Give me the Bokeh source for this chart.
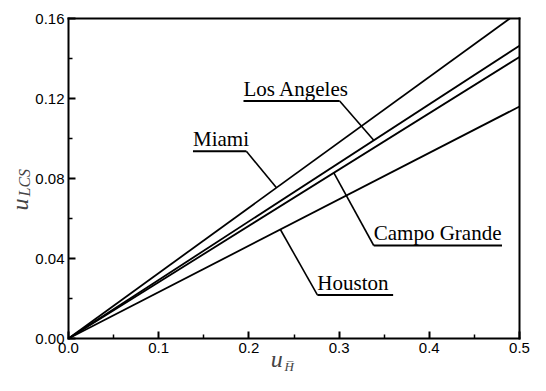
import numpy as np
from math import pi
from bokeh.plotting import figure
from bokeh.models import Range1d, FixedTicker, PrintfTickFormatter, Label, LinearAxis
from bokeh.embed import file_html
from bokeh.resources import INLINE

# ---- data ----
u_h = [0.0, 0.5]
miami = [0.0, 0.1635]
los_angeles = [0.0, 0.1464]
campo_grande = [0.0, 0.1408]
houston = [0.0, 0.1160]

x_ticks = [0.0, 0.1, 0.2, 0.3, 0.4, 0.5]
x_minor = [0.05, 0.15, 0.25, 0.35, 0.45]
y_ticks = [0.0, 0.04, 0.08, 0.12, 0.16]
y_minor = [0.02, 0.06, 0.10, 0.14]

series = {"Miami": miami, "Los Angeles": los_angeles,
          "Campo Grande": campo_grande, "Houston": houston}

# callout placement (data units): underline x0, x1, y; leader start end; leader target x on its series
callouts = {
    "Los Angeles": (0.194, 0.3006, 0.1188, "right", 0.3384),
    "Miami": (0.138, 0.1972, 0.0936, "right", 0.2306),
    "Campo Grande": (0.3384, 0.4806, 0.0465, "left", 0.2942),
    "Houston": (0.2759, 0.3599, 0.0218, "left", 0.2349),
}

# ---- layout (pixels) ----
W, H = 530, 375
PX_L, PX_R, PX_T, PX_B = 68, 519, 18, 338
X_LO, X_HI, Y_LO, Y_HI = 0.0, 0.5, 0.0, 0.16
kx = (PX_R - PX_L) / (X_HI - X_LO)
ky = (PX_B - PX_T) / (Y_HI - Y_LO)

p = figure(width=W, height=H, output_backend="svg", toolbar_location=None,
           x_range=Range1d(X_LO - PX_L / kx, X_HI + (W - PX_R) / kx),
           y_range=Range1d(Y_LO - (H - PX_B) / ky, Y_HI + PX_T / ky),
           min_border=0, min_border_left=0, min_border_right=0,
           min_border_top=0, min_border_bottom=0)
p.grid.visible = False
p.outline_line_color = None
p.background_fill_color = "white"
p.border_fill_color = "white"


def style_axis(ax):
    ax.axis_line_width = 2
    ax.axis_line_color = "black"
    ax.axis_line_cap = "square"
    ax.major_tick_in = 7
    ax.major_tick_out = 0
    ax.minor_tick_in = 4
    ax.minor_tick_out = 0
    ax.major_tick_line_width = 2
    ax.minor_tick_line_width = 1.5
    ax.major_label_text_font = "Liberation Sans"
    ax.major_label_text_font_size = "15px"
    ax.major_label_text_color = "black"
    ax.major_label_standoff = 4


xa = p.xaxis[0]
xa.fixed_location = Y_LO
xa.bounds = (X_LO, X_HI)
xa.ticker = FixedTicker(ticks=x_ticks, minor_ticks=x_minor)
xa.formatter = PrintfTickFormatter(format="%.1f")
style_axis(xa)

ya = p.yaxis[0]
ya.fixed_location = X_LO
ya.bounds = (Y_LO, Y_HI)
ya.ticker = FixedTicker(ticks=y_ticks, minor_ticks=y_minor)
ya.formatter = PrintfTickFormatter(format="%.2f")
style_axis(ya)

top = LinearAxis(fixed_location=Y_HI, bounds=(X_LO, X_HI),
                 ticker=FixedTicker(ticks=[], minor_ticks=[]))
right = LinearAxis(fixed_location=X_HI, bounds=(Y_LO, Y_HI),
                   ticker=FixedTicker(ticks=[], minor_ticks=[]))
for ax in (top, right):
    style_axis(ax)
    ax.major_tick_line_color = None
    ax.minor_tick_line_color = None
p.add_layout(top, "above")
p.add_layout(right, "right")


def clip_top(xs, ys, ymax):
    ox, oy = [xs[0]], [ys[0]]
    for i in range(1, len(xs)):
        if ys[i] > ymax:
            ox.append(float(np.interp(ymax, [ys[i - 1], ys[i]], [xs[i - 1], xs[i]])))
            oy.append(ymax)
            break
        ox.append(xs[i])
        oy.append(ys[i])
    return ox, oy


for name, ys in series.items():
    cx, cy = clip_top(u_h, ys, Y_HI)
    p.line(cx, cy, line_color="black", line_width=1.8)

serif = "Liberation Serif"
for name, (x0, x1, y, end, tx) in callouts.items():
    ty = float(np.interp(tx, u_h, series[name]))
    sx = x1 if end == "right" else x0
    p.line([x0, x1], [y, y], line_color="black", line_width=2)
    p.line([sx, tx], [y, ty], line_color="black", line_width=1.6)
    p.add_layout(Label(x=x0, y=y + 0.0062, text=name, text_font=serif,
                       text_font_size="21px", text_color="black",
                       text_align="left", text_baseline="alphabetic"))

# axis titles
p.add_layout(Label(x=-0.0538, y=0.0640, text="u", angle=pi / 2, text_font=serif,
                   text_font_style="italic", text_font_size="24px",
                   text_align="left", text_baseline="alphabetic"))
p.add_layout(Label(x=-0.0483, y=0.0710, text="LCS", angle=pi / 2, text_font=serif,
                   text_font_style="italic", text_font_size="16px",
                   text_align="left", text_baseline="alphabetic"))
p.add_layout(Label(x=0.2241, y=-0.0100, text="u", text_font=serif,
                   text_font_style="italic", text_font_size="24px",
                   text_align="left", text_baseline="alphabetic"))
p.add_layout(Label(x=0.2395, y=-0.0142, text="H\u0305", text_font=serif,
                   text_font_style="italic", text_font_size="13px",
                   text_align="left", text_baseline="alphabetic"))

open("out.html", "w").write(file_html(p, INLINE))
